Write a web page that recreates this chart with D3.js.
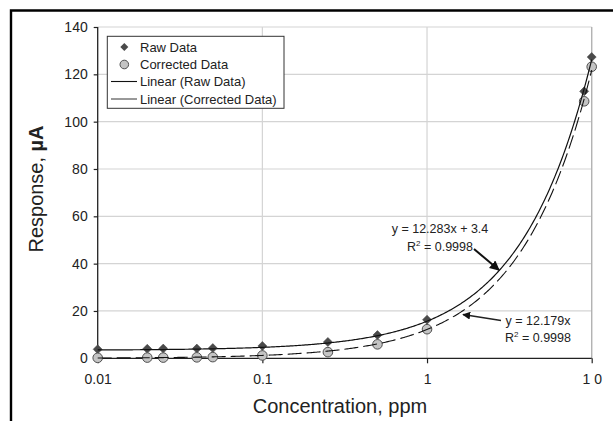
<!DOCTYPE html>
<html>
<head>
<meta charset="utf-8">
<script src="https://cdn.jsdelivr.net/npm/d3@7"></script>
<style>
  html, body { margin: 0; padding: 0; background: #fff; }
  svg { display: block; font-family: "Liberation Sans", Arial, sans-serif; }
</style>
</head>
<body>
<svg id="chart" width="613" height="421"></svg>
<script>
// ---- data ----
const concentrations = [0.01, 0.02, 0.025, 0.04, 0.05, 0.1, 0.25, 0.5, 1, 9, 10];
const rawData =        [3.8, 4.0, 4.1, 4.1, 4.3, 5.2, 6.9, 9.8, 16.3, 112.8, 127.3];
const correctedData =  [0.2, 0.3, 0.3, 0.4, 0.5, 1.2, 2.6, 5.9, 12.3, 108.6, 123.2];
const rawFit = { slope: 12.283, intercept: 3.4 };
const corrFit = { slope: 12.179, intercept: 0 };
const xTicks = [0.01, 0.1, 1, 10];
const xTickLabels = ["0.01", "0.1", "1", "1 0"];
const yTicks = [0, 20, 40, 60, 80, 100, 120, 140];
const legendLabels = ["Raw Data", "Corrected Data", "Linear (Raw Data)", "Linear (Corrected Data)"];

// ---- layout ----
const svg = d3.select("#chart");
const x = d3.scaleLog().domain([0.01, 10]).range([97.7, 591.7]);
const y = d3.scaleLinear().domain([0, 140]).range([358.3, 27]);

// outer frame (top & left)
svg.append("path")
  .attr("d", "M11,430 L11,10.5 L620,10.5")
  .attr("fill", "none").attr("stroke", "#000").attr("stroke-width", 2.4);

// grid
const grid = svg.append("g");
grid.selectAll("line.h").data(yTicks.filter(d => d > 0)).enter().append("line")
  .attr("x1", x(0.01)).attr("x2", x(10))
  .attr("y1", d => y(d)).attr("y2", d => y(d))
  .attr("stroke", "#d4d4d4").attr("stroke-width", 1.2);
grid.selectAll("line.v").data(xTicks.filter(d => d > 0.01)).enter().append("line")
  .attr("x1", d => x(d)).attr("x2", d => x(d))
  .attr("y1", y(140)).attr("y2", y(0))
  .attr("stroke", "#d4d4d4").attr("stroke-width", 1.2);
svg.append("line").attr("x1", x(10)).attr("x2", x(10)).attr("y1", y(140)).attr("y2", y(0))
  .attr("stroke", "#b0b0b0").attr("stroke-width", 1.2);

// axes
const xAxis = d3.axisBottom(x).tickValues(xTicks)
  .tickFormat((d, i) => xTickLabels[i]).tickSize(5).tickPadding(11);
const gx = svg.append("g").attr("transform", `translate(0,${y(0)})`).call(xAxis);
const yAxis = d3.axisLeft(y).tickValues(yTicks).tickSize(4).tickPadding(6);
const gy = svg.append("g").attr("transform", `translate(${x(0.01)},0)`).call(yAxis);
[gx, gy].forEach(g => {
  g.select(".domain").attr("stroke", "#222").attr("stroke-width", 1.3);
  g.selectAll(".tick line").attr("stroke", "#222").attr("stroke-width", 1.2);
  g.selectAll(".tick text").attr("fill", "#222").attr("font-size", 14)
    .attr("font-family", "'Liberation Sans', Arial, sans-serif");
});
gx.select(".domain").attr("d", `M${x(0.01)},0H${x(10)}`);
gy.select(".domain").attr("d", `M0,${y(0)}V${y(140)}`);

// markers
const diamond = (cx, cy, r) => `M${cx},${cy - r}L${cx + r},${cy}L${cx},${cy + r}L${cx - r},${cy}Z`;
svg.append("g").selectAll("path").data(concentrations).enter().append("path")
  .attr("d", (d, i) => diamond(x(d), y(rawData[i]), 4.5))
  .attr("fill", "#4a4a4a").attr("stroke", "#4a4a4a").attr("stroke-width", 0.6);
svg.append("g").selectAll("circle").data(concentrations).enter().append("circle")
  .attr("cx", d => x(d)).attr("cy", (d, i) => y(correctedData[i])).attr("r", 4.8)
  .attr("fill", "#c4c4c4").attr("stroke", "#505050").attr("stroke-width", 1);

// trendlines (evaluate fitted equations across the x domain)
const samples = d3.range(0, 401).map(i => Math.pow(10, -2 + i * 3 / 400));
const line = fit => d3.line().x(d => x(d)).y(d => y(fit.slope * d + fit.intercept))(samples);
svg.append("path").attr("d", line(rawFit))
  .attr("fill", "none").attr("stroke", "#111").attr("stroke-width", 1.2);
svg.append("path").attr("d", line(corrFit))
  .attr("fill", "none").attr("stroke", "#111").attr("stroke-width", 1.1)
  .attr("stroke-dasharray", "14,5");

// legend
const lg = svg.append("g");
lg.append("rect").attr("x", 107.3).attr("y", 36.3).attr("width", 176.7).attr("height", 72)
  .attr("fill", "#fff").attr("stroke", "#333").attr("stroke-width", 1);
const ly = [47, 64.5, 81.5, 99];
lg.append("path").attr("d", diamond(124.3, ly[0], 4)).attr("fill", "#4a4a4a");
lg.append("circle").attr("cx", 124.3).attr("cy", ly[1]).attr("r", 4.3)
  .attr("fill", "#c4c4c4").attr("stroke", "#505050");
lg.append("line").attr("x1", 111).attr("x2", 137).attr("y1", ly[2]).attr("y2", ly[2])
  .attr("stroke", "#111").attr("stroke-width", 1.1);
lg.append("line").attr("x1", 111).attr("x2", 137).attr("y1", ly[3]).attr("y2", ly[3])
  .attr("stroke", "#333").attr("stroke-width", 1);
lg.selectAll("text").data(legendLabels).enter().append("text")
  .attr("x", 140).attr("y", (d, i) => ly[i]).attr("dy", "0.35em")
  .attr("font-size", 13).attr("fill", "#222").text(d => d);

// annotations
const defs = svg.append("defs");
defs.append("marker").attr("id", "ah").attr("viewBox", "0 0 10 10")
  .attr("refX", 9).attr("refY", 5).attr("markerWidth", 5).attr("markerHeight", 5)
  .attr("orient", "auto").attr("markerUnits", "strokeWidth")
  .append("path").attr("d", "M0,0L10,5L0,10Z").attr("fill", "#111");

function eqText(cx, y1, y2, eq, r2) {
  svg.append("text").attr("x", cx).attr("y", y1).attr("text-anchor", "middle")
    .attr("font-size", 12.5).attr("fill", "#222").text(eq);
  const t = svg.append("text").attr("x", cx).attr("y", y2).attr("text-anchor", "middle")
    .attr("font-size", 12.5).attr("fill", "#222");
  t.append("tspan").text("R");
  t.append("tspan").attr("font-size", 8).attr("dy", -5).text("2");
  t.append("tspan").attr("dy", 5).text(" = " + r2);
}
eqText(440, 233, 250.5, "y = 12.283x + 3.4", "0.9998");
eqText(538, 325, 342, "y = 12.179x", "0.9998");

svg.append("line").attr("x1", 474).attr("y1", 249).attr("x2", 499).attr("y2", 270)
  .attr("stroke", "#111").attr("stroke-width", 2).attr("marker-end", "url(#ah)");
svg.append("line").attr("x1", 501).attr("y1", 320.5).attr("x2", 463).attr("y2", 314.5)
  .attr("stroke", "#222").attr("stroke-width", 1.6).attr("marker-end", "url(#ah)");

// axis titles
svg.append("text").attr("x", 340).attr("y", 413).attr("text-anchor", "middle")
  .attr("font-size", 20).attr("fill", "#222").text("Concentration, ppm");
const yt = svg.append("text").attr("transform", "translate(42.5,189) rotate(-90)")
  .attr("text-anchor", "middle").attr("font-size", 20).attr("fill", "#222");
yt.append("tspan").text("Response, ");
yt.append("tspan").attr("font-weight", "bold").text("µA");
</script>
</body>
</html>
